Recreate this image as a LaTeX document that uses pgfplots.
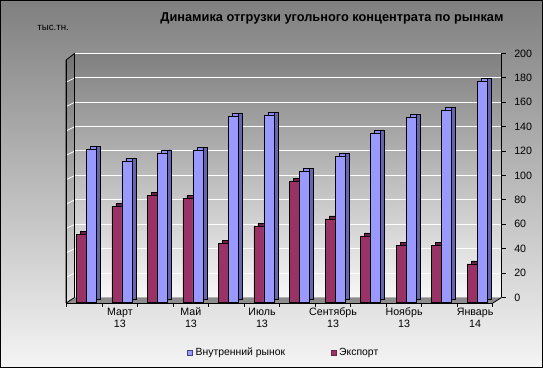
\documentclass[border=0pt]{standalone}
\usepackage{pgfplots}
\pgfplotsset{compat=1.18}
\usepackage{pgfplotstable}
\usepackage{fontspec}
\setmainfont{Liberation Sans}
\definecolor{dombar}{HTML}{9999FF}
\definecolor{domtop}{HTML}{8C8CF0}
\definecolor{domside}{HTML}{6666B0}
\definecolor{expbar}{HTML}{993366}
\definecolor{expside}{HTML}{6A2246}
\definecolor{floorc}{HTML}{8C8C8C}

\pgfplotstableread{
x exp dom
0 55 125
1 78 115
2 87 122
3 85 124
4 48 152
5 62 153
6 99 107
7 68 119
8 54 138
9 46 151
10 46 157
11 31 181
}\datatable

\begin{document}
\begin{tikzpicture}
\begin{scope}[x=0.75pt,y=0.75pt]
\shade[top color=black!50, bottom color=white!96!black] (0,0) rectangle (543,368);
\end{scope}

% back wall with grid and value axis
\begin{axis}[at={(55.875pt,52.875pt)}, anchor=south west, scale only axis,
  width=320.4pt, height=183.2pt,
  xmin=0, xmax=1, ymin=0, ymax=200,
  xtick=\empty, ytick={0,20,...,200},
  ymajorgrids, grid style={white, line width=0.75pt},
  axis y line*=right, axis x line=none,
  y axis line style={black, line width=0.6pt},
  tick align=outside, major tick length=3pt,
  tick style={black, line width=0.6pt},
  yticklabel style={font=\fontsize{8}{9}\selectfont, xshift=3pt},
  /pgf/number format/assume math mode=true,
  axis background/.style={top color=black!50, bottom color=white!97!black}]
\addplot[draw=none] coordinates {(0,0)};
\end{axis}

\begin{scope}[x=0.75pt,y=0.75pt]
% left wall
\shade[top color=black!55, bottom color=white!88!black] (66,65) -- (66,308) -- (74.5,314.7) -- (74.5,70.5) -- cycle;
\draw[white, line width=0.6pt] \foreach \k in {1,...,9} { (66,{65+1.22*20*\k+1.3}) -- (74.5,{70.5+1.22*20*\k}) };
% floor
\fill[floorc] (66,65) -- (74.5,70.5) -- (501.7,70.5) -- (493,65) -- cycle;
\draw[black, line width=0.6pt] (66,65) -- (66,308) -- (74.5,314.7) -- (74.5,70.5) -- (66,65);
\draw[black, line width=0.6pt] (501.7,70.5) -- (493,65);
\end{scope}

% bars (front plane)
\begin{axis}[at={(49.875pt,48.75pt)}, anchor=south west, scale only axis,
  width=319.875pt, height=182.1pt,
  xmin=-0.5, xmax=11.5, ymin=-1, ymax=198,
  axis x line*=bottom, axis y line*=left,
  ytick=\empty,
  xtick={-0.5,0.5,...,11.5}, xticklabels={},
  extra x ticks={1,3,5,7,9,11},
  extra x tick labels={{Март\\13},{Май\\13},{Июль\\13},{Сентябрь\\13},{Ноябрь\\13},{Январь\\14}},
  extra x tick style={major tick length=0pt, xticklabel style={align=center, font=\fontsize{8}{9}\selectfont}},
  xticklabel style={align=center, font=\fontsize{8}{9}\selectfont},
  tick align=outside, major tick length=3pt,
  tick style={black, line width=0.6pt},
  axis line style={black, line width=0.6pt},
  clip=false,
  legend style={draw=none, fill=none, legend columns=2,
    font=\fontsize{7.8}{9}\selectfont, at={(0.51,-0.206)}, anchor=center,
    /tikz/every even column/.append style={column sep=32pt},
    inner sep=0pt},
  legend image code/.code={\draw[#1, line width=0.5pt] (0pt,-2pt) rectangle (4pt,2pt);}]
\addplot[ybar, bar width=7.5pt, bar shift=-2.25pt, fill=expside, draw=black, line width=0.4pt, xshift=3pt, yshift=2.25pt, forget plot] table[x=x,y=exp]{\datatable};
\addplot[ybar, bar width=7.5pt, bar shift=-2.25pt, fill=expbar, draw=black, line width=0.4pt, forget plot] table[x=x,y=exp]{\datatable};
\addplot[ybar, bar width=7.5pt, bar shift=5.25pt, fill=domtop, draw=black, line width=0.4pt, xshift=3pt, yshift=2.25pt, forget plot] table[x=x,y=dom]{\datatable};
\addplot[ybar, bar width=3pt, bar shift=10.5pt, fill=domside, draw=black, line width=0.4pt, yshift=2.25pt, forget plot] table[x=x,y=dom]{\datatable};
\addplot[ybar, bar width=7.5pt, bar shift=5.25pt, fill=dombar, draw=black, line width=0.4pt, forget plot] table[x=x,y=dom]{\datatable};
\addlegendimage{fill=dombar, draw=domside!70!black}
\addlegendentry{Внутренний рынок}
\addlegendimage{fill=expbar, draw=expside}
\addlegendentry{Экспорт}
\end{axis}

\begin{scope}[x=0.75pt,y=0.75pt]
\node[font=\bfseries\fontsize{9.6}{12}\selectfont] at (332,350) {Динамика отгрузки угольного концентрата по рынкам};
\node[font=\fontsize{7.3}{8}\selectfont] at (53,340) {тыс.тн.};
\draw[black, line width=0.75pt] (0.375,0.375) rectangle (542.625,367.625);
\end{scope}
\end{tikzpicture}
\end{document}
